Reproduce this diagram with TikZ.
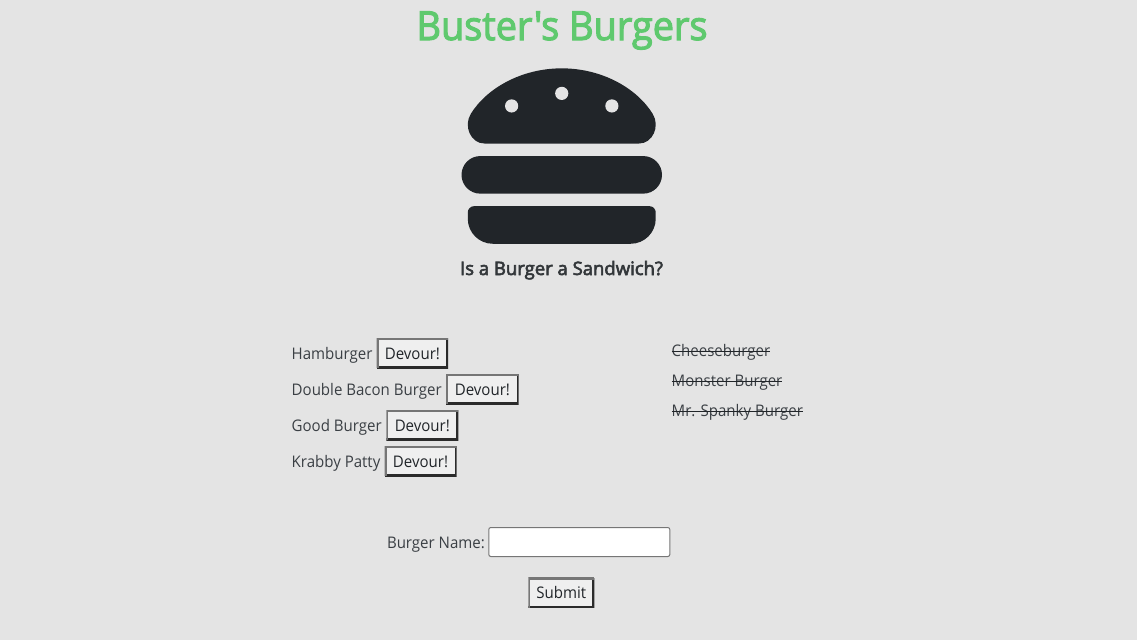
\documentclass[tikz,border=0pt]{standalone}
\usepackage{fontspec}
\setmainfont[FakeStretch=0.94]{Open Sans}
\newfontfamily\headfont[FakeStretch=0.947]{Open Sans}
\newfontfamily\subfont[FakeStretch=1.0]{Open Sans}
\newcommand{\heavier}[2]{\special{pdf:code 2 Tr #1 w}#2\special{pdf:code 0 Tr}}
\definecolor{bg}{HTML}{E4E4E4}
\definecolor{ink}{HTML}{212529}
\definecolor{body}{HTML}{3A3F44}
\definecolor{titlegreen}{HTML}{5FC96E}
\definecolor{btnface}{HTML}{EFEFEF}
\definecolor{btnlight}{HTML}{767676}
\definecolor{btndark}{HTML}{2B2B2B}
\tikzset{
  txt/.style={anchor=base west,inner sep=0pt,outer sep=0pt,text=body,font=\fontsize{16}{19}\selectfont},
  btn/.style={inner sep=0pt,outer sep=0pt,fill=btnface,minimum height=30pt,text=ink,
    text height=14pt,text depth=2pt,font=\fontsize{16}{19}\selectfont,
    path picture={
      \draw[btndark,line width=4pt] (path picture bounding box.north east)--(path picture bounding box.south east)--(path picture bounding box.south west);
      \draw[btnlight,line width=4pt] (path picture bounding box.south west)--(path picture bounding box.north west)--(path picture bounding box.north east);
    }},
  strike/.style={draw=ink,line width=1pt},
  bunfill/.style={fill=ink,draw=none},
}
\begin{document}
\begin{tikzpicture}[x=1pt,y=-1pt]
\useasboundingbox (0,0) rectangle (1137,640);
\fill[bg] (0,0) rectangle (1137,640);
\node[anchor=base,inner sep=0pt,text=titlegreen,font=\fontsize{40}{48}\headfont] (title) at (562,40) {\heavier{1.1}{Buster\symbol{39}s Burgers}};
\begin{scope}[shift={(461.5,55.8)},x=0.3916pt,y=-0.3916pt]
\fill[bunfill] (58.64,224) -- (453.36,224) .. controls (487.93,224) and (507.98,180.1) .. (488.18,148.12)
  .. controls (448,83.2) and (359.55,32.1) .. (256,32) .. controls (152.46,32.1) and (64,83.2) .. (23.83,148.11)
  .. controls (4,180.09) and (24.07,224) .. (58.64,224) -- cycle;
\fill[bg] (384,128) circle[radius=6.6pt] (256,96) circle[radius=6.6pt] (128,128) circle[radius=6.6pt];
\fill[bunfill] (48,256) -- (464,256) .. controls (490.5,256) and (512,277.5) .. (512,304) .. controls (512,330.5) and (490.5,352) .. (464,352)
  -- (48,352) .. controls (21.5,352) and (0,330.5) .. (0,304) .. controls (0,277.5) and (21.5,256) .. (48,256) -- cycle;
\fill[bunfill] (32,384) -- (480,384) .. controls (488.8,384) and (496,391.2) .. (496,400) -- (496,416)
  .. controls (496,451.3) and (467.3,480) .. (432,480) -- (80,480) .. controls (44.7,480) and (16,451.3) .. (16,416)
  -- (16,400) .. controls (16,391.2) and (23.2,384) .. (32,384) -- cycle;
\end{scope}
\node[anchor=base,inner sep=0pt,text=ink!92!white,font=\fontsize{18.5}{22}\subfont] (question) at (561.5,275) {\heavier{0.6}{Is a Burger a Sandwich?}};
\node[txt] (n1) at (291.7,359) {Hamburger};
\node[txt] (n2) at (291.7,395) {Double Bacon Burger};
\node[txt] (n3) at (291.7,431) {Good Burger};
\node[txt] (n4) at (291.7,467) {Krabby Patty};
\node[btn,minimum width=71.5pt] (b1) at (412.4,353) {Devour!};
\node[btn,minimum width=72.5pt] (b2) at (482.4,389) {Devour!};
\node[btn,minimum width=72pt] (b3) at (422.3,425) {Devour!};
\node[btn,minimum width=72pt] (b4) at (420.5,461) {Devour!};
\node[txt] (c1) at (671.7,356) {Cheeseburger};
\node[txt] (c2) at (671.7,386) {Monster Burger};
\node[txt] (c3) at (671.7,416) {Mr. Spanky Burger};
\draw[strike] ([yshift=5pt]c1.base west) -- ([yshift=5pt]c1.base east);
\draw[strike] ([yshift=5pt]c2.base west) -- ([yshift=5pt]c2.base east);
\draw[strike] ([yshift=5pt]c3.base west) -- ([yshift=5pt]c3.base east);
\node[txt] (lab) at (387,548) {Burger Name:};
\node[inner sep=0pt,outer sep=0pt,minimum width=181pt,minimum height=29pt,fill=white,draw=btnlight,line width=1pt,rounded corners=2pt] (inp) at (579.3,542) {};
\node[btn,minimum width=66pt] (sub) at (561.3,592.7) {Submit};
\end{tikzpicture}
\end{document}
